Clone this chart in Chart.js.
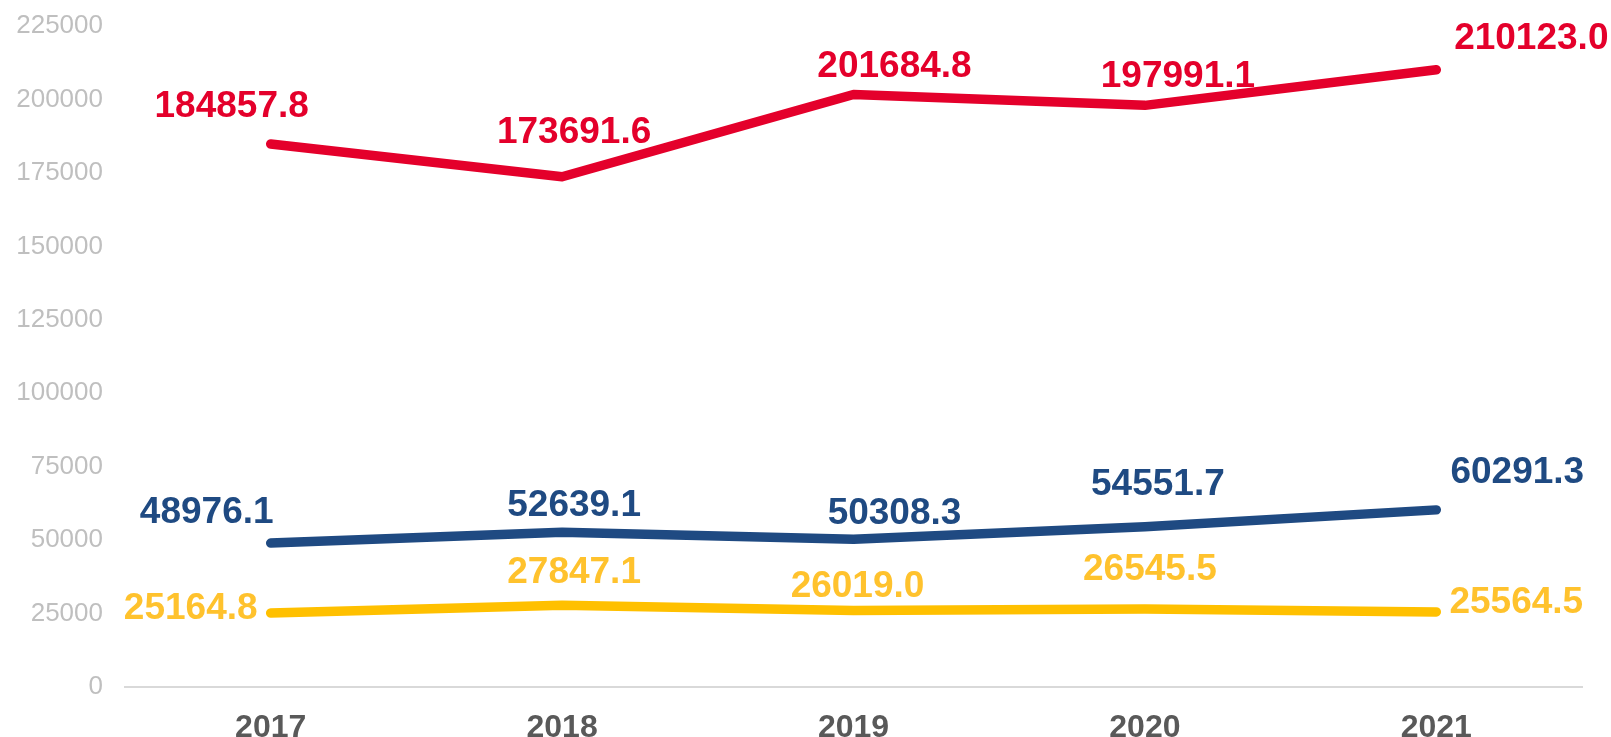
<!DOCTYPE html>
<html>
<head>
<meta charset="utf-8">
<script src="https://cdn.jsdelivr.net/npm/chart.js@4"></script>
<style>
  html, body { margin: 0; padding: 0; background: #ffffff; }
  #wrap { width: 1611px; height: 737px; }
</style>
</head>
<body>
<div id="wrap"><canvas id="c" width="1611" height="737"></canvas></div>
<script>
const categories = ['2017', '2018', '2019', '2020', '2021'];
const seriesRed = [184857.8, 173691.6, 201684.8, 197991.1, 210123.0];
const seriesBlue = [48976.1, 52639.1, 50308.3, 54551.7, 60291.3];
const seriesYellow = [25164.8, 27847.1, 26019.0, 26545.5, 25564.5];
const yTickValues = [0, 25000, 50000, 75000, 100000, 125000, 150000, 175000, 200000, 225000];

// label offsets (style only), per series per point [dx, dy]
const offsRed = [[-39, -37], [12, -44], [41, -28], [33, -29], [95, -31]];
const offsBlue = [[-64, -30], [12, -27], [41, -25], [13, -42], [81, -37]];
const offsYellow = [[-80, -4], [12, -32], [4, -24], [5, -39], [80, -9]];

const labelPlugin = {
  id: 'valueLabels',
  afterDatasetsDraw(chart) {
    const ctx = chart.ctx;
    ctx.save();
    ctx.font = 'bold 37px "Liberation Sans", Arial, sans-serif';
    ctx.textAlign = 'center';
    ctx.textBaseline = 'middle';
    chart.data.datasets.forEach((ds, i) => {
      const meta = chart.getDatasetMeta(i);
      meta.data.forEach((pt, j) => {
        const o = ds.labelOffsets[j];
        ctx.fillStyle = ds.labelColor;
        ctx.fillText(ds.data[j].toFixed(1), pt.x + o[0], pt.y + o[1]);
      });
    });
    ctx.restore();
  }
};

new Chart(document.getElementById('c'), {
  type: 'line',
  data: {
    labels: categories,
    datasets: [
      { data: seriesRed, borderColor: '#E4002B', labelColor: '#E4002B', labelOffsets: offsRed },
      { data: seriesBlue, borderColor: '#1F4A82', labelColor: '#1F4A82', labelOffsets: offsBlue },
      { data: seriesYellow, borderColor: '#FFC000', labelColor: '#FFC22D', labelOffsets: offsYellow }
    ].map(d => Object.assign({
      borderWidth: 9.5,
      pointRadius: 0,
      pointHoverRadius: 0,
      tension: 0,
      fill: false,
      borderCapStyle: 'round',
      borderJoinStyle: 'round',
      clip: false
    }, d))
  },
  plugins: [labelPlugin],
  options: {
    responsive: false,
    animation: false,
    events: [],
    layout: { padding: { top: 26, right: 29, bottom: 0, left: 0 } },
    plugins: { legend: { display: false }, tooltip: { enabled: false } },
    scales: {
      x: {
        offset: true,
        grid: { display: false, drawTicks: false },
        border: { display: true, color: '#D9D9D9', width: 2 },
        ticks: {
          color: '#595959',
          padding: 22,
          font: { family: '"Liberation Sans", Arial, sans-serif', size: 32, weight: 'bold' }
        },
        afterFit(scale) { scale.height = 50; scale.paddingLeft = 0; scale.paddingRight = 0; }
      },
      y: {
        min: 0,
        max: 225000,
        grid: { display: false, drawTicks: false },
        border: { display: false },
        afterBuildTicks(scale) { scale.ticks = yTickValues.map(v => ({ value: v })); },
        ticks: {
          color: '#BFBFBF',
          padding: 22,
          callback: v => String(v),
          font: { family: '"Liberation Sans", Arial, sans-serif', size: 26 }
        },
        afterFit(scale) { scale.width = 125; scale.paddingTop = 0; scale.paddingBottom = 0; }
      }
    }
  }
});
</script>
</body>
</html>
